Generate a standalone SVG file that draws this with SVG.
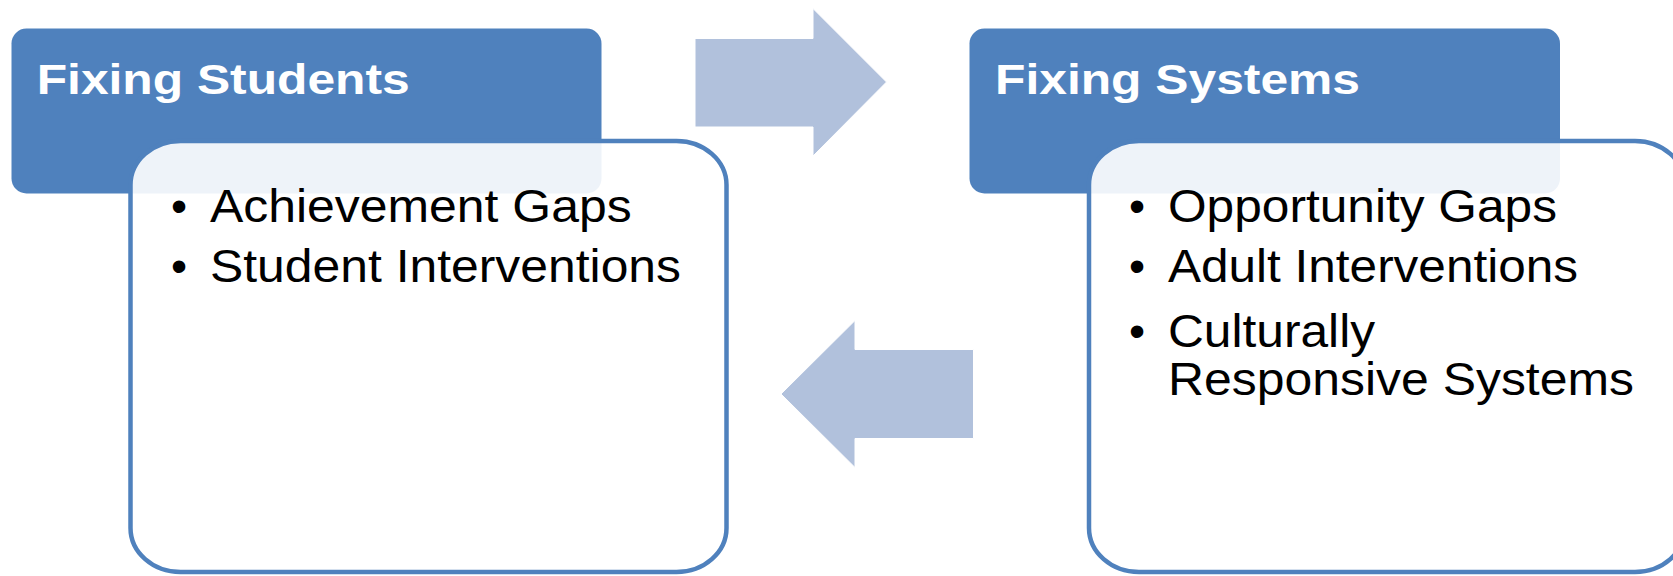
<svg xmlns="http://www.w3.org/2000/svg" width="1673" height="576" viewBox="0 0 1673 576">
  <style>
    .hdr { fill: #4F81BD; }
    .body { fill: #FFFFFF; fill-opacity: 0.9; stroke: #4F81BD; stroke-width: 4.5; }
    .arrow { fill: #B1C1DC; stroke: #FFFFFF; stroke-width: 1; }
    .title { font-family: "Liberation Sans", Arial, sans-serif; font-weight: bold; font-size: 42px; fill: #FFFFFF; }
    .item { font-family: "Liberation Sans", Arial, sans-serif; font-size: 46px; fill: #000000; }
  </style>
  <rect width="1673" height="576" fill="#FFFFFF"/>

  <g id="header-students">
    <rect class="hdr" x="11.5" y="28.5" width="590" height="165" rx="15" ry="15"/>
    <text class="title" x="36.7" y="94" textLength="373" lengthAdjust="spacingAndGlyphs">Fixing Students</text>
  </g>

  <g id="header-systems">
    <rect class="hdr" x="969.5" y="28.5" width="590.5" height="165" rx="15" ry="15"/>
    <text class="title" x="995" y="94" textLength="365" lengthAdjust="spacingAndGlyphs">Fixing Systems</text>
  </g>

  <g id="connectors">
    <polygon class="arrow" points="695,38.5 813,38.5 813,8.5 886.5,82 813,156 813,127 695,127"/>
    <polygon class="arrow" points="781,394 855,320.5 855,349.5 973.5,349.5 973.5,438.5 855,438.5 855,467.5"/>
  </g>

  <g id="body-students">
    <rect class="body" x="130.5" y="141" width="596" height="431" rx="50" ry="44"/>
    <text class="item" x="171" y="222">•</text>
    <text class="item" x="210" y="222" textLength="421.6" lengthAdjust="spacingAndGlyphs">Achievement Gaps</text>
    <text class="item" x="171" y="282">•</text>
    <text class="item" x="210" y="282" textLength="471" lengthAdjust="spacingAndGlyphs">Student Interventions</text>
  </g>

  <g id="body-systems">
    <rect class="body" x="1089" y="141" width="596" height="431" rx="50" ry="44"/>
    <text class="item" x="1129" y="222">•</text>
    <text class="item" x="1168" y="222" textLength="389" lengthAdjust="spacingAndGlyphs">Opportunity Gaps</text>
    <text class="item" x="1129" y="282">•</text>
    <text class="item" x="1168" y="282" textLength="410" lengthAdjust="spacingAndGlyphs">Adult Interventions</text>
    <text class="item" x="1129" y="347">•</text>
    <text class="item" x="1168" y="347" textLength="207" lengthAdjust="spacingAndGlyphs">Culturally</text>
    <text class="item" x="1168" y="395" textLength="466" lengthAdjust="spacingAndGlyphs">Responsive Systems</text>
  </g>
</svg>
